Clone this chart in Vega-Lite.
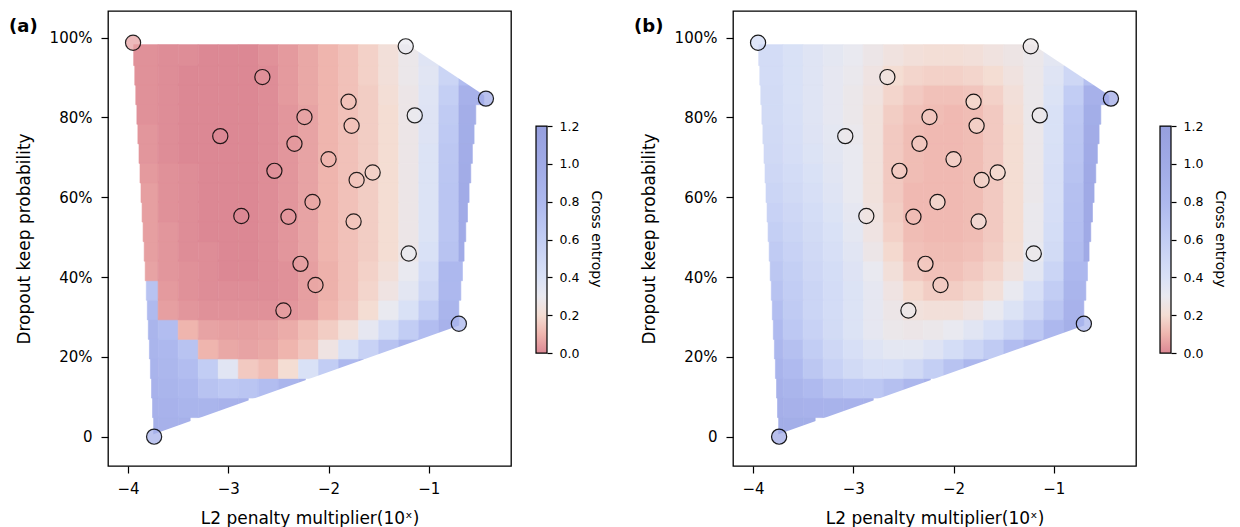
{
  "$schema": "https://vega.github.io/schema/vega-lite/v6.json",
  "background": "white",
  "padding": {"left": 8, "top": 10, "right": 5, "bottom": 5},
  "datasets": {
    "grid": [
      {"y":0.025,"x0":[-3.745,-3.7,-3.5],"x1":[-3.7,-3.5,-3.38],"a":[0.92,0.9,0.9],"b":[0.95,0.95,0.95]},
      {"y":0.074,"x0":[-3.756,-3.7,-3.5,-3.3,-3.1,-2.9],"x1":[-3.7,-3.5,-3.3,-3.1,-2.9,-2.8],"a":[0.9,0.88,0.85,0.85,0.88,0.9],"b":[0.93,0.9,0.88,0.87,0.88,0.9]},
      {"y":0.123,"x0":[-3.766,-3.7,-3.5,-3.3,-3.1,-2.9,-2.7,-2.5,-2.3],"x1":[-3.7,-3.5,-3.3,-3.1,-2.9,-2.7,-2.5,-2.3,-2.23],"a":[0.88,0.85,0.8,0.7,0.65,0.68,0.75,0.85,0.9],"b":[0.9,0.85,0.78,0.7,0.65,0.65,0.72,0.82,0.9]},
      {"y":0.172,"x0":[-3.777,-3.7,-3.5,-3.3,-3.1,-2.9,-2.7,-2.5,-2.3,-2.1,-1.9,-1.7],"x1":[-3.7,-3.5,-3.3,-3.1,-2.9,-2.7,-2.5,-2.3,-2.1,-1.9,-1.7,-1.65],"a":[0.86,0.82,0.75,0.6,0.35,0.15,0.12,0.2,0.4,0.6,0.8,0.9],"b":[0.86,0.78,0.66,0.55,0.47,0.42,0.42,0.48,0.58,0.7,0.82,0.9]},
      {"y":0.221,"x0":[-3.787,-3.7,-3.5,-3.3,-3.1,-2.9,-2.7,-2.5,-2.3,-2.1,-1.9,-1.7,-1.5,-1.3],"x1":[-3.7,-3.5,-3.3,-3.1,-2.9,-2.7,-2.5,-2.3,-2.1,-1.9,-1.7,-1.5,-1.3,-1.08],"a":[0.85,0.8,0.7,0.1,0.07,0.06,0.07,0.1,0.14,0.25,0.4,0.55,0.7,0.85],"b":[0.82,0.72,0.6,0.5,0.42,0.36,0.33,0.33,0.37,0.44,0.52,0.62,0.75,0.88]},
      {"y":0.27,"x0":[-3.798,-3.7,-3.5,-3.3,-3.1,-2.9,-2.7,-2.5,-2.3,-2.1,-1.9,-1.7,-1.5,-1.3,-1.1,-0.9],"x1":[-3.7,-3.5,-3.3,-3.1,-2.9,-2.7,-2.5,-2.3,-2.1,-1.9,-1.7,-1.5,-1.3,-1.1,-0.9,-0.7],"a":[0.85,0.75,0.1,0.06,0.05,0.05,0.06,0.08,0.12,0.16,0.22,0.32,0.45,0.6,0.75,0.88],"b":[0.78,0.65,0.55,0.46,0.38,0.32,0.28,0.27,0.28,0.3,0.35,0.42,0.52,0.65,0.8,0.92]},
      {"y":0.319,"x0":[-3.808,-3.7,-3.5,-3.3,-3.1,-2.9,-2.7,-2.5,-2.3,-2.1,-1.9,-1.7,-1.5,-1.3,-1.1,-0.9],"x1":[-3.7,-3.5,-3.3,-3.1,-2.9,-2.7,-2.5,-2.3,-2.1,-1.9,-1.7,-1.5,-1.3,-1.1,-0.9,-0.7],"a":[0.78,0.05,0.03,0.02,0.02,0.02,0.02,0.03,0.05,0.1,0.14,0.2,0.3,0.4,0.6,0.85],"b":[0.74,0.62,0.52,0.45,0.38,0.32,0.27,0.23,0.22,0.22,0.25,0.3,0.38,0.5,0.68,0.88]},
      {"y":0.368,"x0":[-3.818,-3.7,-3.5,-3.3,-3.1,-2.9,-2.7,-2.5,-2.3,-2.1,-1.9,-1.7,-1.5,-1.3,-1.1,-0.9],"x1":[-3.7,-3.5,-3.3,-3.1,-2.9,-2.7,-2.5,-2.3,-2.1,-1.9,-1.7,-1.5,-1.3,-1.1,-0.9,-0.68],"a":[0.7,0.04,0.02,0.01,0.01,0.01,0.01,0.02,0.05,0.09,0.13,0.18,0.25,0.34,0.5,0.8],"b":[0.7,0.6,0.52,0.45,0.38,0.32,0.25,0.19,0.16,0.16,0.18,0.22,0.3,0.42,0.6,0.85]},
      {"y":0.417,"x0":[-3.829,-3.7,-3.5,-3.3,-3.1,-2.9,-2.7,-2.5,-2.3,-2.1,-1.9,-1.7,-1.5,-1.3,-1.1,-0.9],"x1":[-3.7,-3.5,-3.3,-3.1,-2.9,-2.7,-2.5,-2.3,-2.1,-1.9,-1.7,-1.5,-1.3,-1.1,-0.9,-0.664],"a":[0.06,0.03,0.02,0.01,0.0,0.0,0.01,0.02,0.05,0.09,0.13,0.17,0.22,0.3,0.45,0.8],"b":[0.66,0.58,0.5,0.44,0.37,0.3,0.22,0.15,0.13,0.13,0.15,0.18,0.24,0.34,0.52,0.8]},
      {"y":0.466,"x0":[-3.839,-3.7,-3.5,-3.3,-3.1,-2.9,-2.7,-2.5,-2.3,-2.1,-1.9,-1.7,-1.5,-1.3,-1.1,-0.9,-0.7],"x1":[-3.7,-3.5,-3.3,-3.1,-2.9,-2.7,-2.5,-2.3,-2.1,-1.9,-1.7,-1.5,-1.3,-1.1,-0.9,-0.7,-0.648],"a":[0.05,0.03,0.01,0.01,0.0,0.0,0.01,0.03,0.06,0.1,0.13,0.16,0.2,0.27,0.4,0.7,0.98],"b":[0.62,0.55,0.48,0.42,0.35,0.27,0.19,0.13,0.12,0.12,0.13,0.16,0.21,0.3,0.46,0.76,1.0]},
      {"y":0.515,"x0":[-3.85,-3.7,-3.5,-3.3,-3.1,-2.9,-2.7,-2.5,-2.3,-2.1,-1.9,-1.7,-1.5,-1.3,-1.1,-0.9,-0.7],"x1":[-3.7,-3.5,-3.3,-3.1,-2.9,-2.7,-2.5,-2.3,-2.1,-1.9,-1.7,-1.5,-1.3,-1.1,-0.9,-0.7,-0.631],"a":[0.05,0.03,0.01,0.0,0.0,0.0,0.01,0.03,0.06,0.1,0.13,0.16,0.2,0.27,0.38,0.68,0.98],"b":[0.58,0.52,0.46,0.4,0.33,0.25,0.17,0.12,0.11,0.11,0.12,0.15,0.2,0.29,0.44,0.74,1.0]},
      {"y":0.564,"x0":[-3.86,-3.7,-3.5,-3.3,-3.1,-2.9,-2.7,-2.5,-2.3,-2.1,-1.9,-1.7,-1.5,-1.3,-1.1,-0.9,-0.7],"x1":[-3.7,-3.5,-3.3,-3.1,-2.9,-2.7,-2.5,-2.3,-2.1,-1.9,-1.7,-1.5,-1.3,-1.1,-0.9,-0.7,-0.614],"a":[0.05,0.02,0.01,0.0,0.0,0.0,0.01,0.03,0.06,0.1,0.13,0.16,0.2,0.27,0.38,0.68,0.98],"b":[0.55,0.5,0.44,0.38,0.32,0.24,0.16,0.11,0.11,0.11,0.12,0.15,0.2,0.29,0.43,0.73,1.0]},
      {"y":0.613,"x0":[-3.871,-3.7,-3.5,-3.3,-3.1,-2.9,-2.7,-2.5,-2.3,-2.1,-1.9,-1.7,-1.5,-1.3,-1.1,-0.9,-0.7],"x1":[-3.7,-3.5,-3.3,-3.1,-2.9,-2.7,-2.5,-2.3,-2.1,-1.9,-1.7,-1.5,-1.3,-1.1,-0.9,-0.7,-0.598],"a":[0.05,0.02,0.01,0.0,0.0,0.0,0.01,0.03,0.06,0.1,0.13,0.16,0.2,0.27,0.38,0.68,0.98],"b":[0.52,0.47,0.42,0.36,0.3,0.23,0.15,0.11,0.11,0.11,0.12,0.15,0.2,0.28,0.42,0.72,1.0]},
      {"y":0.662,"x0":[-3.881,-3.7,-3.5,-3.3,-3.1,-2.9,-2.7,-2.5,-2.3,-2.1,-1.9,-1.7,-1.5,-1.3,-1.1,-0.9,-0.7],"x1":[-3.7,-3.5,-3.3,-3.1,-2.9,-2.7,-2.5,-2.3,-2.1,-1.9,-1.7,-1.5,-1.3,-1.1,-0.9,-0.7,-0.581],"a":[0.04,0.02,0.01,0.0,0.0,0.0,0.01,0.03,0.06,0.1,0.13,0.16,0.2,0.27,0.38,0.67,0.97],"b":[0.5,0.45,0.4,0.35,0.3,0.23,0.15,0.12,0.11,0.11,0.12,0.15,0.2,0.28,0.42,0.7,1.0]},
      {"y":0.711,"x0":[-3.891,-3.7,-3.5,-3.3,-3.1,-2.9,-2.7,-2.5,-2.3,-2.1,-1.9,-1.7,-1.5,-1.3,-1.1,-0.9,-0.7],"x1":[-3.7,-3.5,-3.3,-3.1,-2.9,-2.7,-2.5,-2.3,-2.1,-1.9,-1.7,-1.5,-1.3,-1.1,-0.9,-0.7,-0.565],"a":[0.03,0.01,0.0,0.0,0.0,0.0,0.01,0.03,0.06,0.1,0.13,0.16,0.2,0.27,0.38,0.66,0.96],"b":[0.48,0.43,0.38,0.34,0.3,0.23,0.15,0.12,0.11,0.11,0.12,0.15,0.2,0.28,0.41,0.68,0.98]},
      {"y":0.76,"x0":[-3.902,-3.7,-3.5,-3.3,-3.1,-2.9,-2.7,-2.5,-2.3,-2.1,-1.9,-1.7,-1.5,-1.3,-1.1,-0.9,-0.7],"x1":[-3.7,-3.5,-3.3,-3.1,-2.9,-2.7,-2.5,-2.3,-2.1,-1.9,-1.7,-1.5,-1.3,-1.1,-0.9,-0.7,-0.548],"a":[0.03,0.01,0.0,0.0,0.0,0.0,0.01,0.03,0.06,0.1,0.13,0.16,0.2,0.27,0.37,0.64,0.95],"b":[0.47,0.42,0.37,0.33,0.29,0.23,0.15,0.12,0.11,0.11,0.12,0.15,0.2,0.28,0.4,0.67,0.97]},
      {"y":0.809,"x0":[-3.912,-3.7,-3.5,-3.3,-3.1,-2.9,-2.7,-2.5,-2.3,-2.1,-1.9,-1.7,-1.5,-1.3,-1.1,-0.9,-0.7],"x1":[-3.7,-3.5,-3.3,-3.1,-2.9,-2.7,-2.5,-2.3,-2.1,-1.9,-1.7,-1.5,-1.3,-1.1,-0.9,-0.7,-0.531],"a":[0.02,0.01,0.0,0.0,0.0,0.0,0.01,0.03,0.06,0.1,0.13,0.16,0.2,0.27,0.37,0.62,0.94],"b":[0.46,0.41,0.36,0.32,0.28,0.23,0.16,0.13,0.12,0.11,0.12,0.15,0.21,0.28,0.4,0.65,0.95]},
      {"y":0.858,"x0":[-3.923,-3.7,-3.5,-3.3,-3.1,-2.9,-2.7,-2.5,-2.3,-2.1,-1.9,-1.7,-1.5,-1.3,-1.1,-0.9,-0.7],"x1":[-3.7,-3.5,-3.3,-3.1,-2.9,-2.7,-2.5,-2.3,-2.1,-1.9,-1.7,-1.5,-1.3,-1.1,-0.9,-0.7,-0.45],"a":[0.02,0.01,0.0,0.0,0.0,0.0,0.01,0.04,0.07,0.1,0.13,0.16,0.21,0.27,0.36,0.58,0.9],"b":[0.46,0.4,0.36,0.32,0.28,0.24,0.18,0.15,0.13,0.13,0.14,0.17,0.22,0.28,0.38,0.6,0.9]},
      {"y":0.907,"x0":[-3.933,-3.7,-3.5,-3.3,-3.1,-2.9,-2.7,-2.5,-2.3,-2.1,-1.9,-1.7,-1.5,-1.3,-1.1,-0.9,-0.7],"x1":[-3.7,-3.5,-3.3,-3.1,-2.9,-2.7,-2.5,-2.3,-2.1,-1.9,-1.7,-1.5,-1.3,-1.1,-0.9,-0.7,-0.6],"a":[0.02,0.01,0.0,0.0,0.0,0.0,0.01,0.04,0.07,0.1,0.13,0.17,0.22,0.28,0.35,0.52,0.75],"b":[0.45,0.4,0.36,0.32,0.29,0.25,0.2,0.18,0.17,0.17,0.18,0.2,0.24,0.28,0.36,0.5,0.72]},
      {"y":0.956,"x0":[-3.944,-3.7,-3.5,-3.3,-3.1,-2.9,-2.7,-2.5,-2.3,-2.1,-1.9,-1.7,-1.5,-1.3,-1.1],"x1":[-3.7,-3.5,-3.3,-3.1,-2.9,-2.7,-2.5,-2.3,-2.1,-1.9,-1.7,-1.5,-1.3,-1.1,-0.9],"a":[0.02,0.01,0.01,0.0,0.0,0.0,0.02,0.04,0.07,0.1,0.13,0.17,0.22,0.28,0.36],"b":[0.45,0.4,0.36,0.33,0.3,0.27,0.24,0.22,0.21,0.21,0.22,0.24,0.26,0.28,0.34]}
    ],
    "maskb": [
      {"x": -3.76, "y": 0.005, "y2": -0.055},
      {"x": -0.69, "y": 0.279, "y2": -0.055}
    ],
    "maskt": [
      {"x": -1.2, "y": 0.981, "y2": 1.05},
      {"x": -0.43, "y": 0.852, "y2": 1.05}
    ],
    "pts": [
      {"x":-3.95,"y":0.987,"a":0.06,"b":0.45},
      {"x":-1.23,"y":0.978,"a":0.3,"b":0.27},
      {"x":-0.43,"y":0.847,"a":0.95,"b":1.0},
      {"x":-2.66,"y":0.901,"a":0.02,"b":0.25},
      {"x":-2.24,"y":0.801,"a":0.06,"b":0.15},
      {"x":-1.8,"y":0.839,"a":0.13,"b":0.2},
      {"x":-3.08,"y":0.753,"a":0.0,"b":0.28},
      {"x":-1.77,"y":0.779,"a":0.13,"b":0.18},
      {"x":-1.14,"y":0.805,"a":0.3,"b":0.28},
      {"x":-2.34,"y":0.734,"a":0.04,"b":0.15},
      {"x":-2.0,"y":0.695,"a":0.1,"b":0.18},
      {"x":-2.54,"y":0.666,"a":0.02,"b":0.15},
      {"x":-1.56,"y":0.662,"a":0.17,"b":0.2},
      {"x":-1.72,"y":0.643,"a":0.14,"b":0.18},
      {"x":-2.87,"y":0.553,"a":0.0,"b":0.25},
      {"x":-2.4,"y":0.551,"a":0.03,"b":0.12},
      {"x":-2.16,"y":0.588,"a":0.07,"b":0.2},
      {"x":-1.75,"y":0.539,"a":0.14,"b":0.22},
      {"x":-1.2,"y":0.459,"a":0.3,"b":0.28},
      {"x":-2.28,"y":0.433,"a":0.05,"b":0.15},
      {"x":-2.13,"y":0.38,"a":0.07,"b":0.15},
      {"x":-2.45,"y":0.316,"a":0.05,"b":0.28},
      {"x":-0.7,"y":0.283,"a":0.85,"b":0.85},
      {"x":-3.74,"y":0.0,"a":0.9,"b":1.0}
    ],
    "cbar": [{"lo":0,"hi":1.2}]
  },
  "hconcat": [
    {
      "hconcat": [
        {
          "width": 403, "height": 455,
          "title": {"text": "(a)", "anchor": "start", "frame": "bounds", "orient": "top", "offset": 0, "dx": -6, "dy": 25, "fontSize": 18, "fontWeight": "bold", "font": "DejaVu Sans", "color": "black"},
          "layer": [
            {
              "data": {"name": "grid"},
              "transform": [{"flatten": ["x0", "x1", "a", "b"]}],
              "mark": {"type": "bar", "orient": "horizontal", "size": 21, "strokeWidth": 0.6},
              "encoding": {
                "y": {"field": "y", "type": "quantitative", "scale": {"domain": [-0.061, 1.054], "nice": false, "zero": false},
                      "axis": {"values": [0, 0.2, 0.4, 0.6, 0.8, 1.0], "labelExpr": "datum.value === 0 ? '0' : format(datum.value, '.0%')", "title": "Dropout keep probability", "labelPadding": 9, "titlePadding": 16}},
                "x": {"field": "x0", "type": "quantitative", "scale": {"domain": [-4.2, -0.18], "nice": false, "zero": false},
                      "axis": {"values": [-4, -3, -2, -1], "format": "d", "title": "L2 penalty multiplier(10ˣ)", "labelPadding": 8, "titlePadding": 14}},
                "x2": {"field": "x1"},
                "color": {"field": "a", "type": "quantitative", "legend": null,
                          "scale": {"domain": [0, 0.1, 0.2, 0.3, 0.4, 0.6, 0.8, 1.0, 1.2], "range": ["#dc8894", "#efb5ae", "#f4ddd3", "#e9e9f0", "#d9e1f6", "#c2cdf4", "#adb8ee", "#a0aae6", "#969fde"], "interpolate": "rgb", "clamp": true}},
                "stroke": {"field": "a", "type": "quantitative", "legend": null,
                          "scale": {"domain": [0, 0.1, 0.2, 0.3, 0.4, 0.6, 0.8, 1.0, 1.2], "range": ["#dc8894", "#efb5ae", "#f4ddd3", "#e9e9f0", "#d9e1f6", "#c2cdf4", "#adb8ee", "#a0aae6", "#969fde"], "interpolate": "rgb", "clamp": true}}
              }
            },
            {
              "data": {"name": "maskb"},
              "mark": {"type": "area", "color": "white", "opacity": 1},
              "encoding": {"x": {"field": "x", "type": "quantitative"}, "y": {"field": "y", "type": "quantitative"}, "y2": {"field": "y2"}}
            },
            {
              "data": {"name": "maskt"},
              "mark": {"type": "area", "color": "white", "opacity": 1},
              "encoding": {"x": {"field": "x", "type": "quantitative"}, "y": {"field": "y", "type": "quantitative"}, "y2": {"field": "y2"}}
            },
            {
              "data": {"name": "pts"},
              "mark": {"type": "circle", "size": 230, "stroke": "black", "strokeWidth": 1.2, "strokeOpacity": 0.85, "fillOpacity": 0.75},
              "encoding": {
                "x": {"field": "x", "type": "quantitative"},
                "y": {"field": "y", "type": "quantitative"},
                "color": {"field": "a", "type": "quantitative", "legend": null}
              }
            }
          ]
        },
        {
          "width": 11, "height": 455,
          "view": {"stroke": null},
          "data": {"name": "cbar"},
          "mark": {"type": "rect", "stroke": "black", "strokeWidth": 1.2,
                   "fill": {"gradient": "linear", "x1": 0, "y1": 1, "x2": 0, "y2": 0, "stops": [
                     {"offset": 0, "color": "#dc8894"}, {"offset": 0.0833, "color": "#efb5ae"}, {"offset": 0.1667, "color": "#f4ddd3"}, {"offset": 0.25, "color": "#e9e9f0"}, {"offset": 0.3333, "color": "#d9e1f6"}, {"offset": 0.5, "color": "#c2cdf4"}, {"offset": 0.6667, "color": "#adb8ee"}, {"offset": 0.8333, "color": "#a0aae6"}, {"offset": 1, "color": "#969fde"}]}},
          "encoding": {
            "y": {"field": "lo", "type": "quantitative", "scale": {"domain": [-0.597, 1.808], "nice": false, "zero": false},
                  "axis": {"orient": "right", "values": [0, 0.2, 0.4, 0.6, 0.8, 1.0, 1.2], "format": ".1f", "tickSize": 5, "labelFontSize": 12.5, "labelPadding": 7, "title": "Cross entropy", "titleFontSize": 14, "titleAngle": 90, "titlePadding": 10}},
            "y2": {"field": "hi"}
          }
        }
      ],
      "spacing": 23
    },
    {
      "hconcat": [
        {
          "width": 403, "height": 455,
          "title": {"text": "(b)", "anchor": "start", "frame": "bounds", "orient": "top", "offset": 0, "dx": -6, "dy": 25, "fontSize": 18, "fontWeight": "bold", "font": "DejaVu Sans", "color": "black"},
          "layer": [
            {
              "data": {"name": "grid"},
              "transform": [{"flatten": ["x0", "x1", "a", "b"]}],
              "mark": {"type": "bar", "orient": "horizontal", "size": 21, "strokeWidth": 0.6},
              "encoding": {
                "y": {"field": "y", "type": "quantitative", "scale": {"domain": [-0.061, 1.054], "nice": false, "zero": false},
                      "axis": {"values": [0, 0.2, 0.4, 0.6, 0.8, 1.0], "labelExpr": "datum.value === 0 ? '0' : format(datum.value, '.0%')", "title": "Dropout keep probability", "labelPadding": 9, "titlePadding": 16}},
                "x": {"field": "x0", "type": "quantitative", "scale": {"domain": [-4.2, -0.18], "nice": false, "zero": false},
                      "axis": {"values": [-4, -3, -2, -1], "format": "d", "title": "L2 penalty multiplier(10ˣ)", "labelPadding": 8, "titlePadding": 14}},
                "x2": {"field": "x1"},
                "color": {"field": "b", "type": "quantitative", "legend": null,
                          "scale": {"domain": [0, 0.1, 0.2, 0.3, 0.4, 0.6, 0.8, 1.0, 1.2], "range": ["#dc8894", "#efb5ae", "#f4ddd3", "#e9e9f0", "#d9e1f6", "#c2cdf4", "#adb8ee", "#a0aae6", "#969fde"], "interpolate": "rgb", "clamp": true}},
                "stroke": {"field": "b", "type": "quantitative", "legend": null,
                          "scale": {"domain": [0, 0.1, 0.2, 0.3, 0.4, 0.6, 0.8, 1.0, 1.2], "range": ["#dc8894", "#efb5ae", "#f4ddd3", "#e9e9f0", "#d9e1f6", "#c2cdf4", "#adb8ee", "#a0aae6", "#969fde"], "interpolate": "rgb", "clamp": true}}
              }
            },
            {
              "data": {"name": "maskb"},
              "mark": {"type": "area", "color": "white", "opacity": 1},
              "encoding": {"x": {"field": "x", "type": "quantitative"}, "y": {"field": "y", "type": "quantitative"}, "y2": {"field": "y2"}}
            },
            {
              "data": {"name": "maskt"},
              "mark": {"type": "area", "color": "white", "opacity": 1},
              "encoding": {"x": {"field": "x", "type": "quantitative"}, "y": {"field": "y", "type": "quantitative"}, "y2": {"field": "y2"}}
            },
            {
              "data": {"name": "pts"},
              "mark": {"type": "circle", "size": 230, "stroke": "black", "strokeWidth": 1.2, "strokeOpacity": 0.9, "fillOpacity": 0.75},
              "encoding": {
                "x": {"field": "x", "type": "quantitative"},
                "y": {"field": "y", "type": "quantitative"},
                "color": {"field": "b", "type": "quantitative", "legend": null}
              }
            }
          ]
        },
        {
          "width": 11, "height": 455,
          "view": {"stroke": null},
          "data": {"name": "cbar"},
          "mark": {"type": "rect", "stroke": "black", "strokeWidth": 1.2,
                   "fill": {"gradient": "linear", "x1": 0, "y1": 1, "x2": 0, "y2": 0, "stops": [
                     {"offset": 0, "color": "#dc8894"}, {"offset": 0.0833, "color": "#efb5ae"}, {"offset": 0.1667, "color": "#f4ddd3"}, {"offset": 0.25, "color": "#e9e9f0"}, {"offset": 0.3333, "color": "#d9e1f6"}, {"offset": 0.5, "color": "#c2cdf4"}, {"offset": 0.6667, "color": "#adb8ee"}, {"offset": 0.8333, "color": "#a0aae6"}, {"offset": 1, "color": "#969fde"}]}},
          "encoding": {
            "y": {"field": "lo", "type": "quantitative", "scale": {"domain": [-0.597, 1.808], "nice": false, "zero": false},
                  "axis": {"orient": "right", "values": [0, 0.2, 0.4, 0.6, 0.8, 1.0, 1.2], "format": ".1f", "tickSize": 5, "labelFontSize": 12.5, "labelPadding": 7, "title": "Cross entropy", "titleFontSize": 14, "titleAngle": 90, "titlePadding": 10}},
            "y2": {"field": "hi"}
          }
        }
      ],
      "spacing": 22
    }
  ],
  "spacing": 30,
  "config": {
    "font": "DejaVu Sans",
    "view": {"stroke": "black", "strokeWidth": 1.3},
    "axis": {"grid": false, "domain": false, "tickColor": "black", "tickSize": 7, "tickWidth": 1.2, "labelColor": "black", "titleColor": "black", "labelFontSize": 15, "titleFontSize": 17, "titleFontWeight": "normal", "labelFont": "DejaVu Sans", "titleFont": "DejaVu Sans"}
  }
}
